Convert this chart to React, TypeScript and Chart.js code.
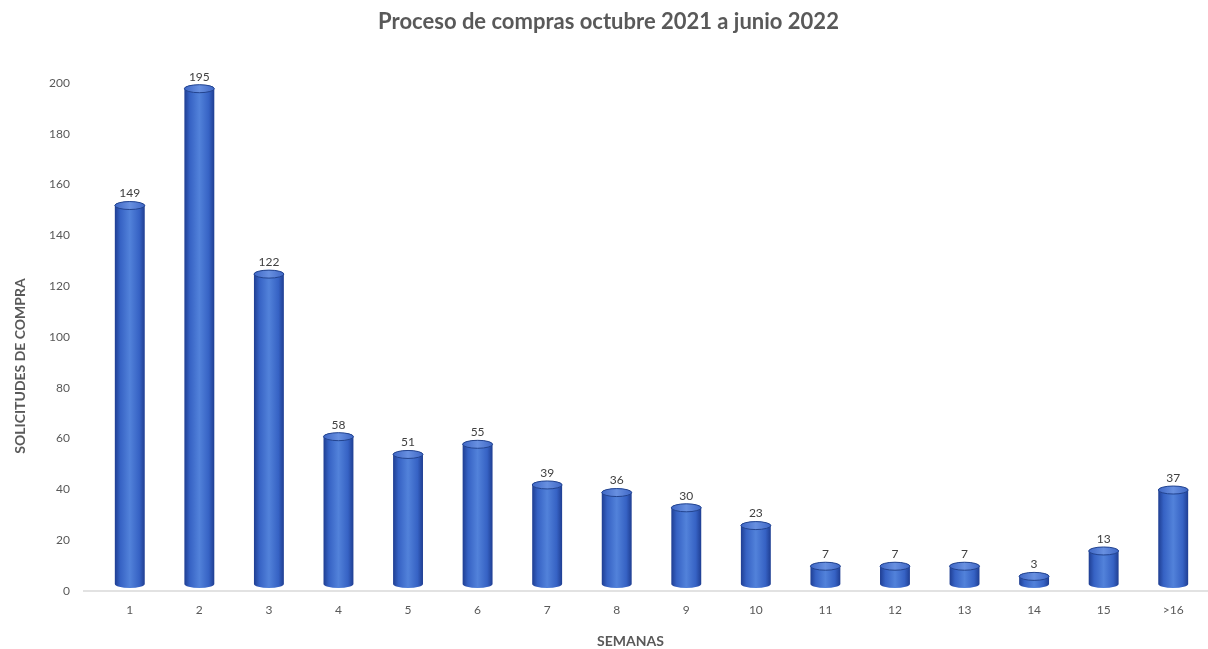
import React, { useEffect, useRef } from "react";
import { Chart, registerables } from "chart.js";

Chart.register(...registerables);

const categories = ["1", "2", "3", "4", "5", "6", "7", "8", "9", "10", "11", "12", "13", "14", "15", ">16"];
const solicitudes = [149, 195, 122, 58, 51, 55, 39, 36, 30, 23, 7, 7, 7, 3, 13, 37];
const yTicks = [0, 20, 40, 60, 80, 100, 120, 140, 160, 180, 200];
const chartTitle = "Proceso de compras octubre 2021 a junio 2022";
const yTitle = "SOLICITUDES DE COMPRA";
const xTitle = "SEMANAS";

const FONT = "Lato, 'Open Sans', sans-serif";
const GRAY = "#595959";
const LIFT = 7;

const cylinderPlugin = {
  id: "cylinders",
  beforeDatasetsDraw(chart: any) {
    const { ctx, chartArea } = chart;
    ctx.save();
    ctx.strokeStyle = "#d9d9d9";
    ctx.lineWidth = 1.5;
    ctx.beginPath();
    ctx.moveTo(chartArea.left - 12, chartArea.bottom);
    ctx.lineTo(chartArea.right, chartArea.bottom);
    ctx.stroke();
    ctx.restore();
  },
  afterDatasetsDraw(chart: any) {
    const { ctx, chartArea } = chart;
    const meta = chart.getDatasetMeta(0);
    ctx.save();
    meta.data.forEach((el: any, i: number) => {
      const { x, y, base, width } = el.getProps(["x", "y", "base", "width"], true);
      const rx = width / 2;
      const ry = 4;
      const top = y - LIFT;
      const bot = base - LIFT;
      const g = ctx.createLinearGradient(x - rx, 0, x + rx, 0);
      g.addColorStop(0, "#1f3e92");
      g.addColorStop(0.18, "#3662c4");
      g.addColorStop(0.5, "#5282da");
      g.addColorStop(0.82, "#3662c4");
      g.addColorStop(1, "#1f3e92");
      ctx.beginPath();
      ctx.moveTo(x - rx, top);
      ctx.lineTo(x - rx, bot);
      ctx.ellipse(x, bot, rx, ry, 0, Math.PI, 0, true);
      ctx.lineTo(x + rx, top);
      ctx.ellipse(x, top, rx, ry, 0, 0, Math.PI, true);
      ctx.closePath();
      ctx.fillStyle = g;
      ctx.fill();
      const tg = ctx.createLinearGradient(x - rx, 0, x + rx, 0);
      tg.addColorStop(0, "#3f67c6");
      tg.addColorStop(0.5, "#6890e0");
      tg.addColorStop(1, "#3f67c6");
      ctx.beginPath();
      ctx.ellipse(x, top, rx, ry, 0, 0, Math.PI * 2);
      ctx.fillStyle = tg;
      ctx.fill();
      ctx.strokeStyle = "#23448f";
      ctx.lineWidth = 1;
      ctx.stroke();
      ctx.fillStyle = "#404040";
      ctx.font = "12px " + FONT;
      ctx.textAlign = "center";
      ctx.textBaseline = "bottom";
      ctx.fillText(String(solicitudes[i]), x, top - ry - 2);
    });
    ctx.fillStyle = GRAY;
    ctx.font = "bold 14px " + FONT;
    ctx.textAlign = "center";
    ctx.textBaseline = "middle";
    ctx.fillText(xTitle, (chartArea.left + chartArea.right) / 2 - 21, chartArea.bottom + 50);
    ctx.translate(20, (chartArea.top + chartArea.bottom) / 2 + 29);
    ctx.rotate(-Math.PI / 2);
    ctx.fillText(yTitle, 0, 0);
    ctx.restore();
  },
};

export default function App() {
  const ref = useRef<HTMLCanvasElement>(null);
  useEffect(() => {
    document.body.style.margin = "0";
    const chart = new Chart(ref.current as HTMLCanvasElement, {
      type: "bar",
      data: {
        labels: categories,
        datasets: [
          {
            data: solicitudes,
            backgroundColor: "rgba(0,0,0,0)",
            borderWidth: 0,
            barPercentage: 0.43,
            categoryPercentage: 1,
          },
        ],
      },
      options: {
        animation: false,
        responsive: true,
        maintainAspectRatio: false,
        layout: { padding: { left: 0, right: -9, top: 0, bottom: 0 } },
        plugins: {
          legend: { display: false },
          tooltip: { enabled: false },
          title: {
            display: true,
            text: chartTitle,
            color: GRAY,
            font: { family: FONT, size: 22, weight: "bold", lineHeight: 1.2 },
            padding: { top: 9, bottom: 47.6 },
          },
        },
        scales: {
          x: {
            grid: { display: false, drawTicks: false },
            border: { display: false },
            ticks: { color: GRAY, font: { family: FONT, size: 12 }, padding: 12, maxRotation: 0, autoSkip: false },
            afterFit: (s: any) => {
              s.height = 58;
            },
          },
          y: {
            min: 0,
            max: 200,
            afterBuildTicks: (s: any) => {
              s.ticks = yTicks.map((v) => ({ value: v }));
            },
            grid: { display: false, drawTicks: false },
            border: { display: false },
            ticks: { color: GRAY, font: { family: FONT, size: 12 }, padding: 25 },
            afterFit: (s: any) => {
              s.width = 95;
            },
          },
        },
      },
      plugins: [cylinderPlugin],
    });
    return () => chart.destroy();
  }, []);
  return (
    <div style={{ position: "fixed", left: 0, top: 0, width: 1208, height: 649, background: "#fff" }}>
      <canvas ref={ref} />
    </div>
  );
}
